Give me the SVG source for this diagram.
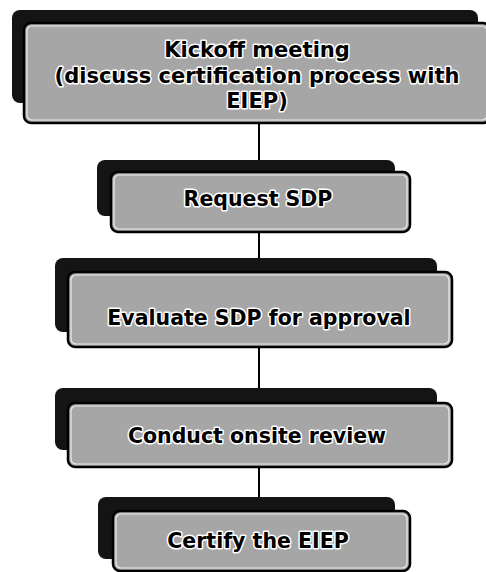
<svg xmlns="http://www.w3.org/2000/svg" width="486" height="572" viewBox="0 0 486 572">
<defs>
<style>
.sh{fill:#141414;}
.fr{fill:#a6a6a6;stroke:#000;stroke-width:2.5;}
.in{fill:none;stroke:#ffffff;stroke-width:1.2;opacity:0.8;}
.t{font-family:"DejaVu Sans","Verdana",sans-serif;font-weight:bold;font-size:20.5px;fill:#000;stroke:#fff;stroke-width:3;paint-order:stroke;stroke-linejoin:round;text-anchor:middle;}
.c{stroke:#000;stroke-width:2;fill:none;}
</style>
</defs>
<rect width="486" height="572" fill="#fff"/>
<g id="connectors">
<line class="c" x1="259" y1="123" x2="259" y2="160"/>
<line class="c" x1="259" y1="232" x2="259" y2="258"/>
<line class="c" x1="259" y1="347" x2="259" y2="388"/>
<line class="c" x1="259" y1="467" x2="259" y2="497"/>
</g>
<g id="kickoff">
<rect class="sh" x="12" y="10" width="466" height="93" rx="8"/>
<rect class="fr" x="24" y="23" width="466" height="100" rx="7"/>
<rect class="in" x="27" y="26" width="460" height="94" rx="5"/>
<text class="t" style="font-size:21px" x="257" y="57">Kickoff meeting</text>
<text class="t" style="font-size:21px" x="257" y="82.5">(discuss certification process with</text>
<text class="t" style="font-size:21px" x="257" y="108">EIEP)</text>
</g>
<g id="request">
<rect class="sh" x="97" y="160" width="298" height="56" rx="8"/>
<rect class="fr" x="111" y="172" width="299" height="60" rx="7"/>
<rect class="in" x="114" y="175" width="293" height="54" rx="5"/>
<text class="t" x="258" y="206">Request SDP</text>
</g>
<g id="evaluate">
<rect class="sh" x="55" y="258" width="382" height="74" rx="8"/>
<rect class="fr" x="68" y="272" width="384" height="75" rx="7"/>
<rect class="in" x="71" y="275" width="378" height="69" rx="5"/>
<text class="t" x="259" y="325">Evaluate SDP for approval</text>
</g>
<g id="onsite">
<rect class="sh" x="55" y="388" width="382" height="62" rx="8"/>
<rect class="fr" x="68" y="403" width="384" height="64" rx="7"/>
<rect class="in" x="71" y="406" width="378" height="58" rx="5"/>
<text class="t" x="257" y="443">Conduct onsite review</text>
</g>
<g id="certify">
<rect class="sh" x="98" y="497" width="297" height="62" rx="8"/>
<rect class="fr" x="113" y="511" width="297" height="60" rx="7"/>
<rect class="in" x="116" y="514" width="291" height="54" rx="5"/>
<text class="t" x="258" y="548">Certify the EIEP</text>
</g>
</svg>
